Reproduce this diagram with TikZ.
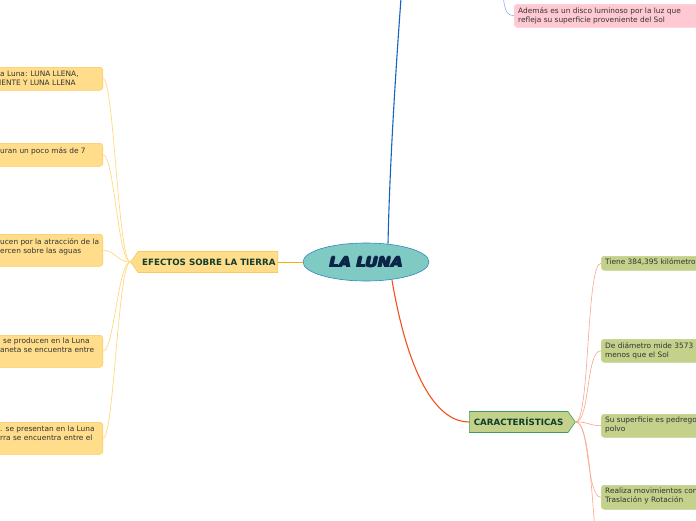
\documentclass[tikz,border=0pt]{standalone}
\usepackage{fontspec}
\setmainfont{DejaVu Sans}
\usetikzlibrary{shapes.symbols,shapes.geometric}
\definecolor{teal1}{HTML}{7FCBC3}
\definecolor{tealb}{HTML}{2E86C1}
\definecolor{navy}{HTML}{0B2447}
\definecolor{yfill}{HTML}{FFDD8A}
\definecolor{ydraw}{HTML}{FBC95C}
\definecolor{yline}{HTML}{FFD670}
\definecolor{gfill}{HTML}{C3D18B}
\definecolor{gdraw}{HTML}{3E9E5C}
\definecolor{gline}{HTML}{F8A68B}
\definecolor{pfill}{HTML}{FFC9D3}
\definecolor{dgreen}{HTML}{0F3D2E}
\definecolor{txt}{HTML}{333333}
\definecolor{blueline}{HTML}{1565C0}
\definecolor{redline}{HTML}{F4511E}
\definecolor{orline}{HTML}{F5B000}
\definecolor{lblue}{HTML}{8FB2E6}
\newcommand\heavytext[1]{\makebox[0pt][l]{#1}\hspace{0.45pt}\makebox[0pt][l]{#1}\hspace{0.45pt}\makebox[0pt][l]{\raisebox{0.3pt}{#1}}\hspace{0.45pt}#1}
\tikzset{
  x=1pt,y=-1pt,
  body/.style={font=\fontsize{7.4}{9}\selectfont, text=txt, align=left, inner sep=0pt, anchor=north west},
  ybox/.style={fill=yfill, draw=ydraw, line width=0.5pt, rounded corners=3pt},
  gbox/.style={fill=gfill, draw=gfill, line width=0.5pt, rounded corners=3pt},
  pbox/.style={fill=pfill, draw=pfill, line width=0.5pt, rounded corners=3pt},
  ycon/.style={draw=yline, line width=0.6pt},
  gcon/.style={draw=gline, line width=0.6pt},
  bold8/.style={font=\bfseries\fontsize{8.7}{9}\selectfont, text=dgreen},
}
\begin{document}
\begin{tikzpicture}
\useasboundingbox (0,0) rectangle (696,520);
\clip (0,0) rectangle (696,520);
\fill[white] (0,0) rectangle (696,520);

% main connectors
\node[ellipse, fill=teal1, draw=tealb, line width=0.6pt, minimum width=126, minimum height=38, inner sep=0pt] (luna) at (366,262) {\fontsize{14}{14}\selectfont\bfseries\itshape\color{navy}\scalebox{1.1}[1]{\heavytext{LA LUNA}}};
\coordinate (topend) at (401,-2);
\draw[blueline, line width=1.1pt] (luna.north) ++(22,1) coordinate (lt) .. controls (390,150) and (398,40) .. (topend);

\node[signal, signal to=west, signal pointer angle=110, fill=yfill, draw=ydraw, line width=0.6pt, minimum height=21, minimum width=147, inner sep=0pt, bold8, anchor=east] (eff) at (278,262) {\hspace{2pt}EFECTOS SOBRE LA TIERRA};
\draw[orline, line width=1pt] (luna.west) -- (eff.east);

\node[signal, signal to=east, signal pointer angle=110, fill=gfill, draw=gdraw, line width=0.6pt, minimum height=21, minimum width=106, inner sep=0pt, bold8, anchor=west] (car) at (469,422) {CARACTERÍSTICAS\hspace{8pt}};
\draw[redline, line width=1.1pt] (luna.south) ++(26,-1) coordinate (lb) .. controls (410,385) and (440,422) .. (car.west);

% pink node
\node[pbox, minimum width=200, minimum height=23, anchor=north west, inner sep=0pt] (p1) at (514,4) {};
\node[body] (p1t) at (518,7) {Además es un disco luminoso por la luz que\\refleja su superficie proveniente del Sol};
\coordinate (pstart) at (503,-5);
\draw[lblue, line width=0.6pt] (pstart) .. controls (505,14) and (508,15) .. (p1.west);

% left yellow nodes
\node[ybox, minimum width=150, minimum height=23, anchor=north east, inner sep=0pt] (y1) at (103,67) {};
\node[body] (y1t) at (-1,71) {\hspace{1pt}a Luna: LUNA LLENA,\\IENTE Y LUNA LLENA};
\node[ybox, minimum width=150, minimum height=23, anchor=north east, inner sep=0pt] (y2) at (103,143) {};
\node[body] (y2t) at (0,147) {uran un poco más de 7};
\node[ybox, minimum width=150, minimum height=32, anchor=north east, inner sep=0pt] (y3) at (103,234) {};
\node[body] (y3t) at (0,238) {ucen por la atracción de la\\ercen sobre las aguas};
\node[ybox, minimum width=150, minimum height=32, anchor=north east, inner sep=0pt] (y4) at (103,335) {};
\node[body] (y4t) at (0,338) {\hspace{3pt}se producen en la Luna\\aneta se encuentra entre};
\node[ybox, minimum width=150, minimum height=32, anchor=north east, inner sep=0pt] (y5) at (103,422) {};
\node[body] (y5t) at (0,426) {. se presentan en la Luna\\rra se encuentra entre el};

\foreach \n/\yy in {y1/78, y2/154, y3/250, y4/351, y5/438}{
  \draw[ycon] (eff.west) .. controls (118,262) and (114,\yy) .. (\n.east);
}

% right green nodes
\node[gbox, minimum width=150, minimum height=14, anchor=north west, inner sep=0pt] (g1) at (601,256) {};
\node[body] (g1t) at (605,258) {Tiene 384,395 kilómetro};
\node[gbox, minimum width=150, minimum height=23, anchor=north west, inner sep=0pt] (g2) at (601,339) {};
\node[body] (g2t) at (605,342) {De diámetro mide 3573\\menos que el Sol};
\node[gbox, minimum width=150, minimum height=23, anchor=north west, inner sep=0pt] (g3) at (601,414) {};
\node[body] (g3t) at (605,417) {Su superficie es pedrego\\polvo};
\node[gbox, minimum width=150, minimum height=24, anchor=north west, inner sep=0pt] (g4) at (601,485) {};
\node[body] (g4t) at (605,488) {Realiza movimientos con\\Traslación y Rotación};
\coordinate (g5) at (596,545);

\foreach \n/\yy in {g1/263,g2/350,g3/425,g4/497}{
  \draw[gcon] (car.east) .. controls (590,422) and (586,\yy) .. (\n.west);
}
\draw[gcon] (car.east) .. controls (588,422) and (591,480) .. (g5);
\end{tikzpicture}
\end{document}
